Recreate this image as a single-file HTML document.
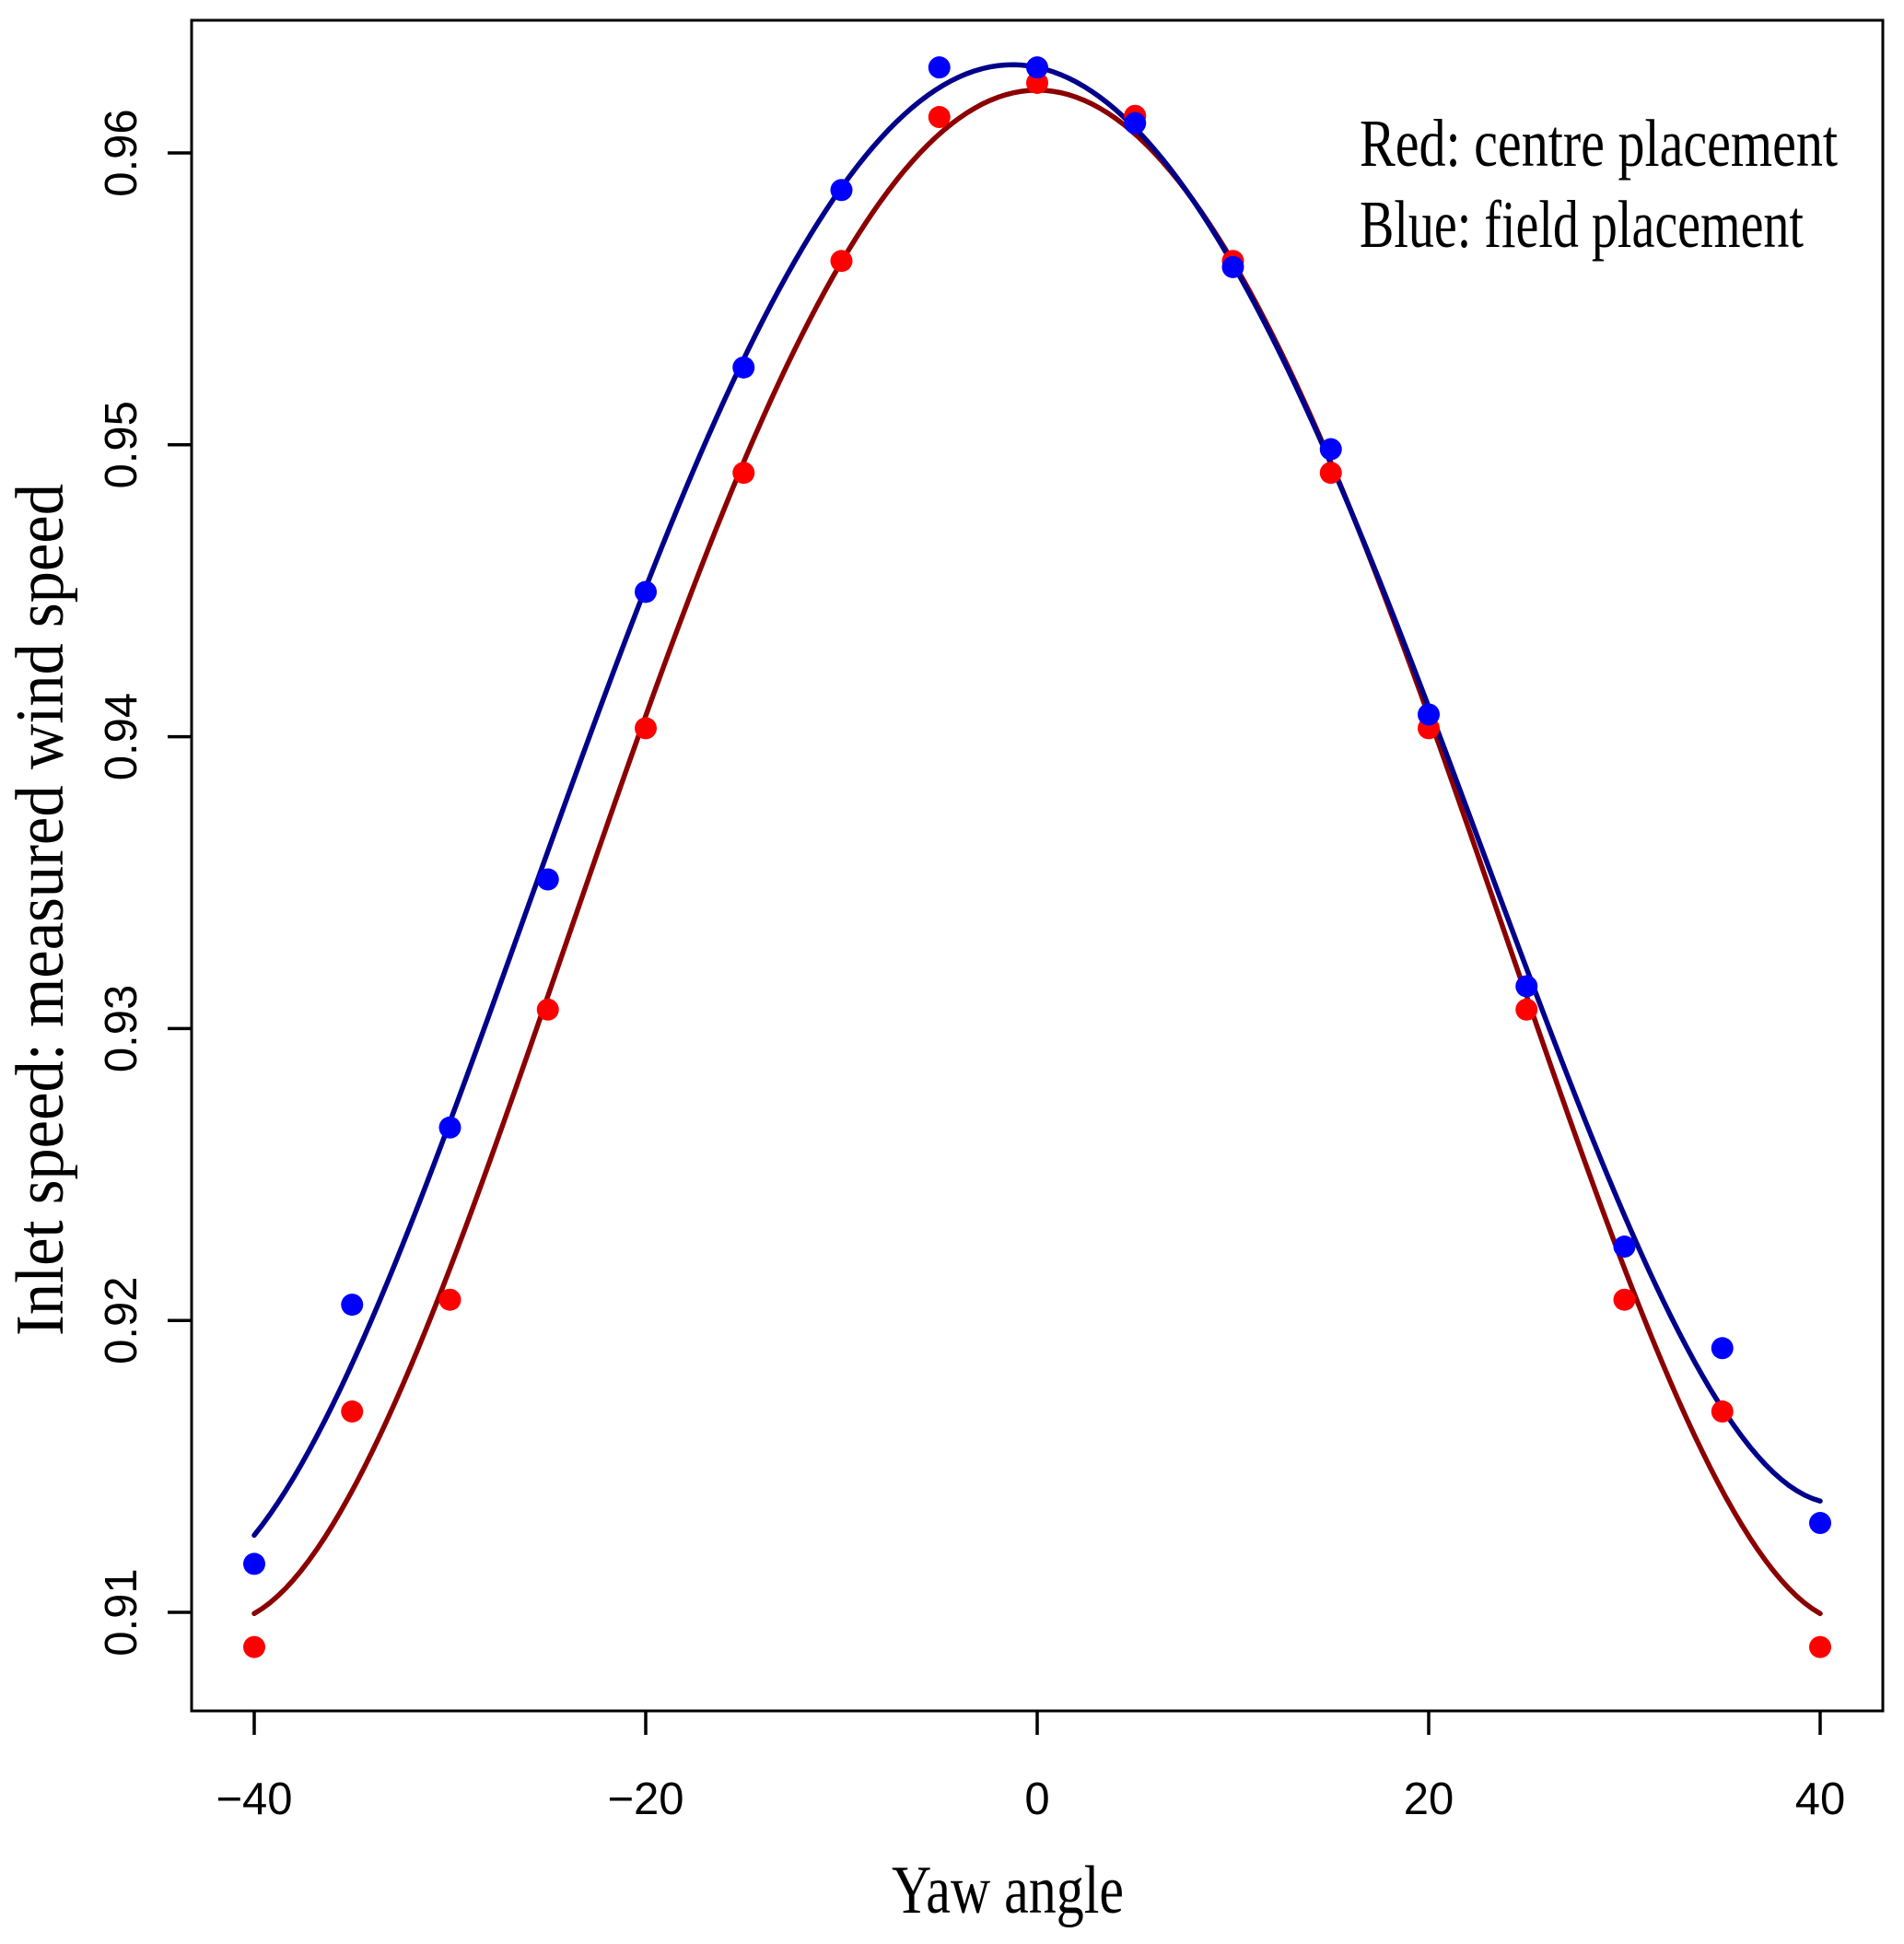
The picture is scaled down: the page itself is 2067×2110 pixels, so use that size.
<!DOCTYPE html>
<html><head><meta charset="utf-8"><style>
html,body{margin:0;padding:0;background:#fff;}
svg{display:block;}
.tick{font-family:"Liberation Sans",sans-serif;font-size:49px;fill:#000;}
.ser{font-family:"Liberation Serif",serif;fill:#000;}
</style></head><body>
<svg id="chart" width="2067" height="2110" viewBox="0 0 2067 2110" xmlns="http://www.w3.org/2000/svg">
<rect x="208" y="22" width="1836" height="1835" fill="none" stroke="#000" stroke-width="3"/>
<g id="axes"></g>
<g id="curves"></g>
<g id="points"></g>
<text class="ser" x="968" y="2076" font-size="74" textLength="252" lengthAdjust="spacingAndGlyphs">Yaw angle</text>
<text class="ser" transform="translate(68,1450) rotate(-90)" x="0" y="0" font-size="74" textLength="925" lengthAdjust="spacingAndGlyphs">Inlet speed: measured wind speed</text>
<text class="ser" x="1476" y="180" font-size="73" textLength="519" lengthAdjust="spacingAndGlyphs">Red: centre placement</text>
<text class="ser" x="1476" y="268" font-size="73" textLength="482" lengthAdjust="spacingAndGlyphs">Blue: field placement</text>
</svg>
<script>
const yawAngles = [-40,-35,-30,-25,-20,-15,-10,-5,0,5,10,15,20,25,30,35,40];
const redValues = [0.90881,0.91688,0.92071,0.93065,0.94029,0.94904,0.9563,0.96123,0.9624,0.96127,0.9563,0.94904,0.94029,0.93065,0.92071,0.91688,0.90881];
const blueValues = [0.91166,0.92054,0.92661,0.93511,0.94496,0.95265,0.95873,0.96293,0.96293,0.96102,0.95609,0.94985,0.94076,0.93145,0.92253,0.91905,0.91306];
const xTicks = [-40,-20,0,20,40];
const yTicks = [0.91,0.92,0.93,0.94,0.95,0.96];
const yTickLabels = ["0.91","0.92","0.93","0.94","0.95","0.96"];

const NS = "http://www.w3.org/2000/svg";
function xs(v){ return 276 + (v + 40) * (1700/80); }
function ys(v){ return 1750 - (v - 0.91) * (1584/0.05); }
function mk(tag, attrs, parent){ const e = document.createElementNS(NS, tag); for (const k in attrs) e.setAttribute(k, attrs[k]); parent.appendChild(e); return e; }

const axes = document.getElementById('axes');
xTicks.forEach(t => {
  const l = mk('line', {x1: xs(t), x2: xs(t), y1: 1857, y2: 1883, stroke: '#000', 'stroke-width': 3.5}, axes);
  
  
  const tx = mk('text', {x: xs(t), y: 1969, 'text-anchor': 'middle', class: 'tick'}, axes);
  tx.textContent = t < 0 ? '\u2212' + Math.abs(t) : String(t);
  
  
});
yTicks.forEach((t, i) => {
  const l = mk('line', {x1: 182, x2: 208, y1: ys(t), y2: ys(t), stroke: '#000', 'stroke-width': 3.5}, axes);
  
  
  const tx = mk('text', {transform: 'translate(148,' + ys(t) + ') rotate(-90)', x: 0, y: 0, 'text-anchor': 'middle', class: 'tick'}, axes);
  tx.textContent = yTickLabels[i];
  
  
});

function polyfit(xv, yv, deg){
  const n = deg + 1, A = [], b = [];
  for (let i = 0; i < n; i++){ A.push(new Array(n).fill(0)); b.push(0); }
  xv.forEach((x0, k) => {
    const x = x0 / 40;
    for (let i = 0; i < n; i++){
      b[i] += yv[k] * Math.pow(x, i);
      for (let j = 0; j < n; j++) A[i][j] += Math.pow(x, i + j);
    }
  });
  for (let i = 0; i < n; i++){
    let p = i; for (let r = i + 1; r < n; r++) if (Math.abs(A[r][i]) > Math.abs(A[p][i])) p = r;
    [A[i], A[p]] = [A[p], A[i]]; [b[i], b[p]] = [b[p], b[i]];
    for (let r = 0; r < n; r++){ if (r === i) continue; const f = A[r][i] / A[i][i];
      for (let c = i; c < n; c++) A[r][c] -= f * A[i][c]; b[r] -= f * b[i]; }
  }
  return b.map((v, i) => v / A[i][i]);
}
function evalPoly(c, x0){ const x = x0 / 40; let s = 0; for (let i = c.length - 1; i >= 0; i--) s = s * x + c[i]; return s; }

const curves = document.getElementById('curves');
function drawCurve(vals, color, name){
  const c = polyfit(yawAngles, vals, 4);
  const xmin = Math.min(...yawAngles), xmax = Math.max(...yawAngles);
  let d = '';
  for (let i = 0; i <= 200; i++){
    const x = xmin + (xmax - xmin) * i / 200;
    d += (i ? 'L' : 'M') + xs(x).toFixed(2) + ',' + ys(evalPoly(c, x)).toFixed(2);
  }
  const p = mk('path', {d: d, fill: 'none', stroke: color, 'stroke-width': 5.5, 'stroke-linecap': 'round'}, curves);
  
  
}
drawCurve(redValues, '#8b0000', 'red-fit-curve');
drawCurve(blueValues, '#00008b', 'blue-fit-curve');

const pts = document.getElementById('points');
redValues.forEach((v, i) => {
  const c = mk('circle', {cx: xs(yawAngles[i]), cy: ys(v), r: 12, fill: '#ff0000'}, pts);
  
  
});
blueValues.forEach((v, i) => {
  const c = mk('circle', {cx: xs(yawAngles[i]), cy: ys(v), r: 12, fill: '#0000ff'}, pts);
  
  
});
</script>
</body></html>
